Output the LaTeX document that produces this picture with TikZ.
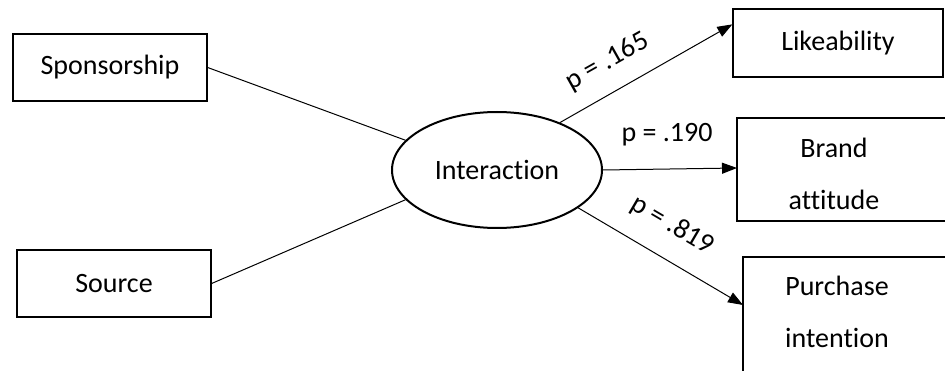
\documentclass[tikz,border=0pt]{standalone}
\usepackage{fontspec}
\setmainfont{Carlito}[Ligatures=NoCommon]
\usetikzlibrary{shapes.geometric,arrows.meta,calc}
\begin{document}
\begin{tikzpicture}[x=1pt,y=-1pt,
  box/.style={draw=black,line width=1.3pt},
  txt/.style={font=\fontsize{28}{52}\selectfont,inner sep=0pt},
  rbox/.style={box,rectangle,font=\fontsize{28}{34}\selectfont,inner sep=0pt},
  conn/.style={line width=1pt},
  arr/.style={line width=1pt,-{Triangle[length=15pt,width=11pt]}},
  lab/.style={font=\fontsize{28}{34}\selectfont,inner sep=0pt,anchor=base}]
\useasboundingbox (0,0) rectangle (945,371);
\clip (0,0) rectangle (945,371);
% left boxes
\node[rbox,minimum width=194pt,minimum height=67pt] (spons) at (110,67.5) {Sponsorship};
\node[rbox,minimum width=194pt,minimum height=67pt] (source) at (114,283.5) {Source};
% ellipse
\node[ellipse,draw=black,line width=2pt,minimum width=210pt,minimum height=116pt,
      font=\fontsize{28}{34}\selectfont,inner sep=0pt] (inter) at (497,170) {Interaction};
% right boxes
\node[rbox,minimum width=210pt,minimum height=68pt] (like) at (838,43) {Likeability\hspace{22pt}};
\coordinate (brandNW) at (737,118);
\coordinate (brandSW) at (737,221);
\draw[box] (960,118) -- (brandNW) -- (brandSW) -- (960,221);
\node[txt,align=center] (brand) at (834,174) {Brand\\attitude};
\coordinate (brandin) at (737,168);
\coordinate (purchNW) at (743,257);
\draw[box] (960,257) -- (purchNW) -- (743,390);
\node[txt,align=center] (purch) at (837,312) {Purchase\\intention};
\coordinate (purchin) at (743,305);
% connectors
\draw[conn] (spons.east) -- (inter.162);
\draw[conn] (source.east) -- (inter.198);
\draw[arr] (inter.37) -- (like.170);
\draw[arr] (inter.east) -- (brandin);
\draw[arr] (inter.-25) -- (purchin);
% labels
\node[lab,rotate=29.3] at (611,68) {p = .165};
\node[lab] at (667,142) {p = .190};
\node[lab,rotate=-30.4] at (669,232) {p = .819};
\end{tikzpicture}
\end{document}
